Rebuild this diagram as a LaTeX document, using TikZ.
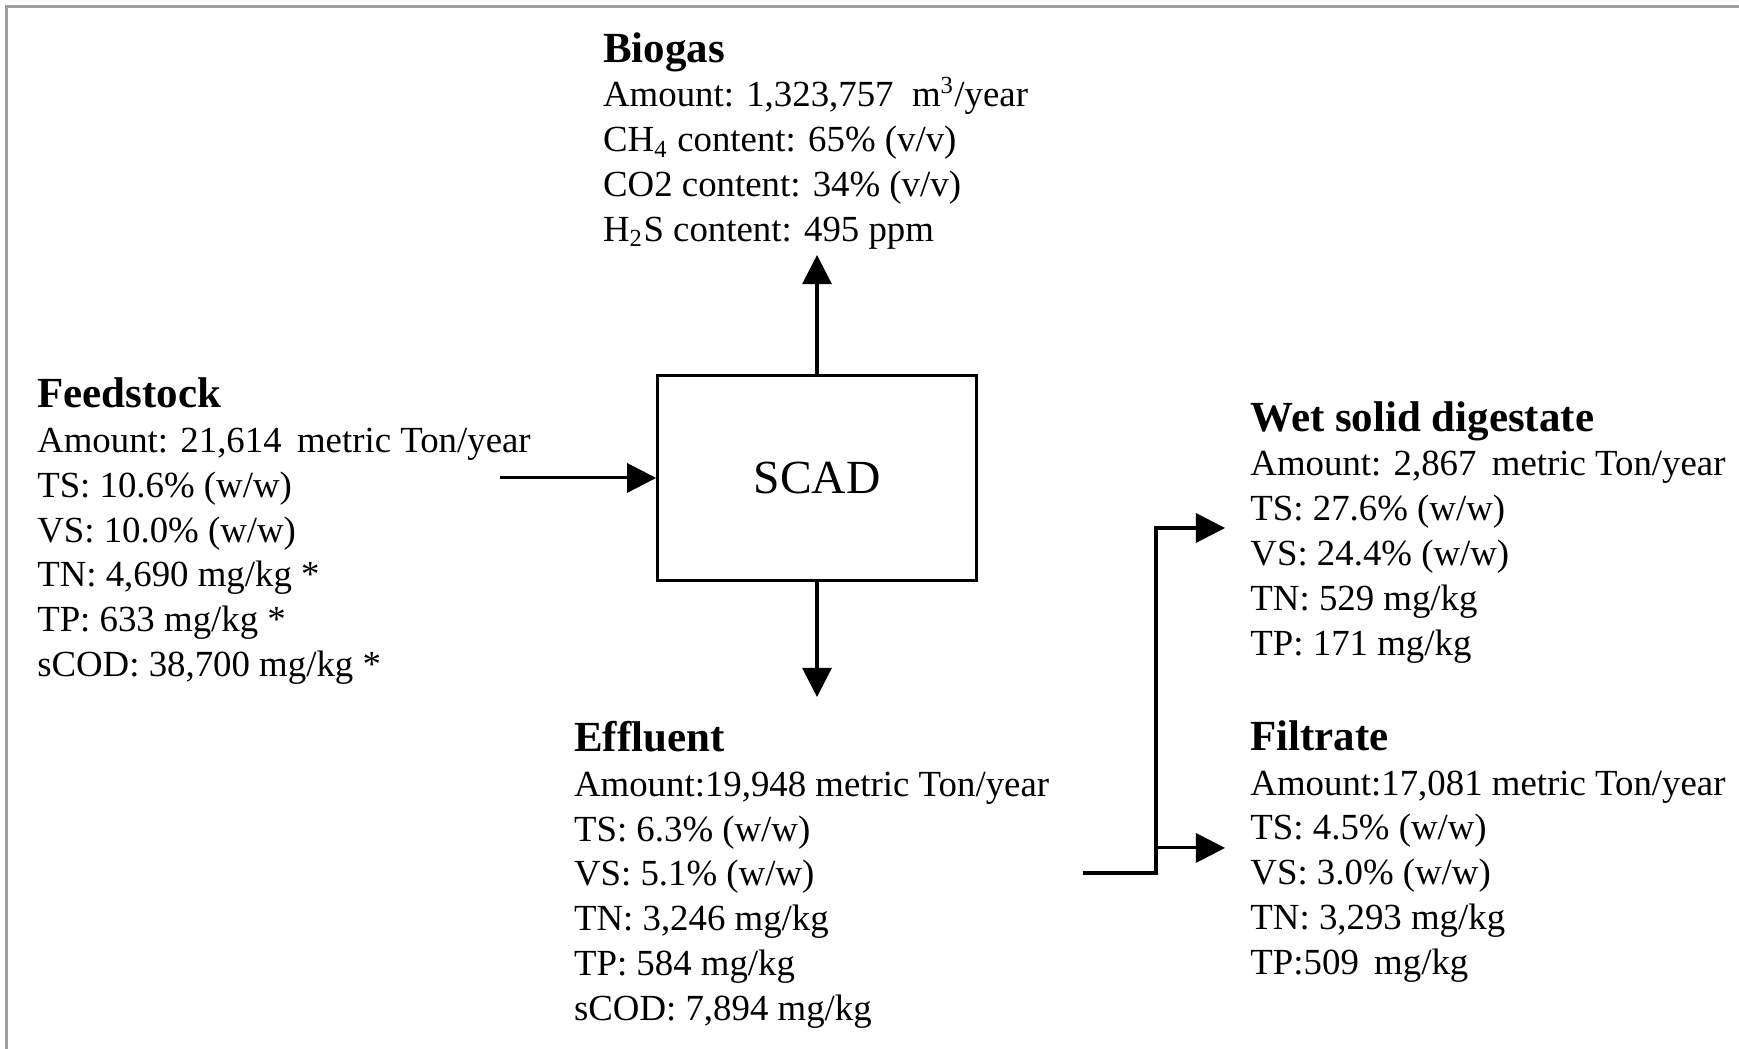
\documentclass[tikz,border=0pt]{standalone}
\usepackage{fontspec}
\setmainfont{Liberation Serif}
\usetikzlibrary{positioning, arrows.meta}

\newcommand{\streamname}[1]{{\fontsize{14}{14.6}\selectfont\bfseries #1}}

\begin{document}
\begin{tikzpicture}[
    % GLOBAL CFG
    font=\fontsize{12}{14.6}\selectfont,
    >={Triangle[length=9.5pt,width=9.5pt]},
    % Styles
    reactor/.style={% For the digester box
        rectangle,
        draw,
        line width=1pt,
        minimum width=3.65cm,
        minimum height=2.34cm,
        font=\fontsize{15.5}{18}\selectfont,
        },
    stream/.style={% For the text of each stream (placed by its last line)
        align=left,
        anchor=base west,
        inner sep=0pt,
        },
    flow/.style={% Arrows between the streams
        ->,
        line width=1pt,
        },
    frame/.style={% Grey frame round the figure
        gray!75,
        line width=0.8pt,
        }
    ]

    \useasboundingbox (-9.359,-6.541) rectangle (10.561,5.475);
    \draw [frame] (-9.283,-6.7) |- (10.7,5.40);

    % Draw the digester
    \node [reactor] (scad) at (0,0) {SCAD};

    % Draw the streams
    \node [stream] (biogas) at (-2.457,2.712) {\streamname{Biogas}\\
        Amount: 1,323,757\ \ m\textsuperscript{3}/year\\
        CH\textsubscript{4} content: 65\% (v/v)\\
        CO2 content: 34\% (v/v)\\
        H\textsubscript{2}S content: 495 ppm};
    \node [stream] (feed) at (-8.939,-2.274) {\streamname{Feedstock}\\
        Amount: 21,614\, metric Ton/year\\
        TS: 10.6\% (w/w)\\
        VS: 10.0\% (w/w)\\
        TN: 4,690 mg/kg *\\
        TP: 633 mg/kg *\\
        sCOD: 38,700 mg/kg *};
    \node [stream] (effluent) at (-2.790,-6.212) {\streamname{Effluent}\\
        Amount:19,948 metric Ton/year\\
        TS: 6.3\% (w/w)\\
        VS: 5.1\% (w/w)\\
        TN: 3,246 mg/kg\\
        TP: 584 mg/kg\\
        sCOD: 7,894 mg/kg};
    \node [stream] (solid) at (4.958,-2.028) {\streamname{Wet solid digestate}\\
        Amount: 2,867\, metric Ton/year\\
        TS: 27.6\% (w/w)\\
        VS: 24.4\% (w/w)\\
        TN: 529 mg/kg\\
        TP: 171 mg/kg};
    \node [stream] (filtrate) at (4.958,-5.686) {\streamname{Filtrate}\\
        Amount:17,081 metric Ton/year\\
        TS: 4.5\% (w/w)\\
        VS: 3.0\% (w/w)\\
        TN: 3,293 mg/kg\\
        TP:509\, mg/kg};

    % Free ends of the arrows
    \coordinate (feedin) at (-3.631,0);
    \coordinate (gasout) at (0,2.554);
    \coordinate (effout) at (0,-2.509);
    \coordinate (effin) at (3.047,-4.525);
    \coordinate (split) at (3.883,-4.525);
    \coordinate (solidin) at (4.674,-0.573);
    \coordinate (filtin) at (4.674,-4.238);

    % Connect all
    \draw [flow] (feedin) -- (scad);
    \draw [flow] (scad) -- (gasout);
    \draw [flow] (scad) -- (effout);
    \draw [flow] (effin) -| (split |- solidin) -- (solidin);
    \draw [flow] (split |- filtin) -- (filtin);

\end{tikzpicture}
\end{document}
